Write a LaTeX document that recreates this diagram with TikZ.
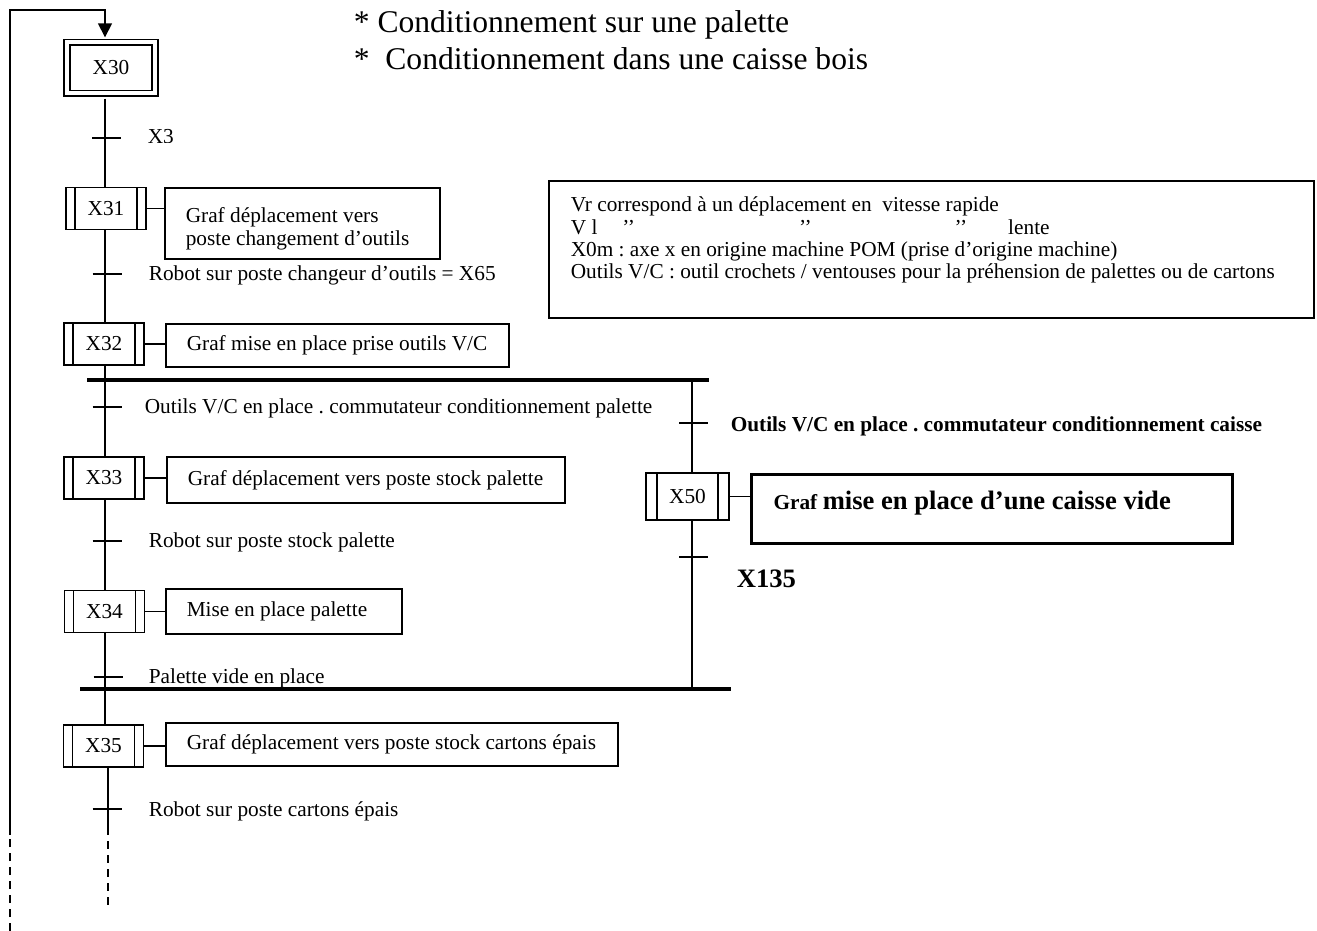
\documentclass[tikz,border=0pt]{standalone}
\usepackage{fontspec}
\setmainfont{Liberation Serif}
\usetikzlibrary{arrows.meta}

\begin{document}
\frenchspacing
\begin{tikzpicture}[x=0.5pt,y=-0.5pt,
  line width=0.8pt,
  every node/.style={font=\fontsize{10.65pt}{11.5pt}\selectfont},
  % ordinary (macro) step: box with two inner vertical bars
  stepbox/.style={draw, minimum width=40pt, minimum height=21pt, inner sep=0pt,
    path picture={
      \draw ([xshift=#1]path picture bounding box.north west) -- ([xshift=#1]path picture bounding box.south west);
      \draw ([xshift=-#1]path picture bounding box.north east) -- ([xshift=-#1]path picture bounding box.south east);}},
  stepbox/.default=4.5pt,
  initstep/.style={draw, double, double distance=2pt, minimum width=44pt, minimum height=25.5pt, inner sep=0pt},
  actbox/.style={draw, anchor=west, inner xsep=10.5pt},
  lbl/.style={anchor=base west, inner sep=0pt},
  thickbar/.style={line width=1.7pt},
  dashpart/.style={dash pattern=on 4pt off 3pt}
]
\useasboundingbox (0,0) rectangle (1317,931);

% ---------- heading ----------
\node[lbl, font=\fontsize{15.8pt}{18pt}\selectfont] (h1) at (353,33) {* Conditionnement sur une palette};
\node[lbl, font=\fontsize{15.8pt}{18pt}\selectfont] (h2) at (353,70) {*~ Conditionnement dans une caisse bois};

% ---------- column coordinates ----------
\coordinate (col) at (105,0);
\coordinate (colb) at (108,0);
\coordinate (rcol) at (692,0);

% ---------- steps ----------
\node[initstep] (x30) at (111,68) {X30};
\node[stepbox] (x31) at (106,208.5) {X31};
\node[stepbox] (x32) at (104,344) {X32};
\node[stepbox] (x33) at (104,478) {X33};
\node[stepbox] (x34) at (104.5,611.5) {X34};
\node[stepbox] (x35) at (103.5,746) {X35};
\node[stepbox=5.5pt, line width=1.25pt, minimum width=41.5pt, minimum height=23.5pt] (x50) at (687.5,496.5) {X50};

% ---------- actions ----------
\node[actbox, minimum height=35.5pt] (a31) at (164,223.5)
  {\makebox[116.5pt][l]{\raisebox{-3pt}[\height][\depth]{\begin{tabular}{@{}l@{}}Graf déplacement vers\\poste changement d’outils\end{tabular}}}};
\node[actbox, minimum height=21.5pt] (a32) at (165,345.5) {\makebox[150.5pt][l]{Graf mise en place prise outils V/C}};
\node[actbox, minimum height=23pt] (a33) at (166,480) {\makebox[178pt][l]{Graf déplacement vers poste stock palette}};
\node[actbox, minimum height=22.5pt] (a34) at (165,611.5) {\makebox[97pt][l]{Mise en place palette}};
\node[actbox, minimum height=21.5pt] (a35) at (165,744.5) {\makebox[205pt][l]{Graf déplacement vers poste stock cartons épais}};
\node[actbox, line width=1.5pt, inner xsep=11pt, inner ysep=0pt,
      text height=17.5pt, text depth=17pt] (a50) at (750,508.5)
  {\makebox[218.5pt][l]{\textbf{Graf} {\fontsize{13.3pt}{15pt}\selectfont\bfseries mise en place d’une caisse vide}}};

\foreach \s in {31,32,33,34,35,50}
  \draw (x\s.east) -- (x\s.east -| a\s.west);

% ---------- note box ----------
\node[draw, anchor=north west, minimum width=382.5pt, minimum height=68.5pt, inner sep=0pt] (note) at (548,180) {};
\node[lbl] (n1) at (570,212) {Vr correspond à un déplacement en\ \ vitesse rapide};
\node[lbl] (n2) at (570,234) {V l\hspace{12.5pt}’’\hspace{82pt}’’\hspace{71.5pt}’’\hspace{20.5pt}lente};
\node[lbl] (n3) at (570,256) {X0m : axe x en origine machine POM (prise d’origine machine)};
\node[lbl] (n4) at (570,278) {Outils V/C : outil crochets / ventouses pour la préhension de palettes ou de cartons};

% ---------- divergence / convergence bars ----------
\coordinate (divw) at (87,380);
\coordinate (dive) at (709,380);
\coordinate (convw) at (80,689);
\coordinate (conve) at (731,689);
\draw[thickbar] (divw) -- (dive);
\draw[thickbar] (convw) -- (conve);

% ---------- loop back to the initial step ----------
\coordinate (loopbot) at (10,931);
\coordinate (loopmid) at (10,835);
\coordinate (looptop) at (10,10);
\draw[dashpart] (loopbot) -- (loopmid);
\draw[-{Triangle[length=7pt,width=7pt]}] (loopmid) -- (looptop) -- (looptop -| col)
  -- ([yshift=2.2pt]x30.north -| col);

% ---------- main sequence links ----------
\draw ([yshift=-2.2pt]x30.south -| col) -- (x31.north -| col);
\draw (x31.south -| col) -- (x32.north -| col);
\draw (x32.south -| col) -- (divw -| col);
\draw (divw -| col) -- (x33.north -| col);
\draw (x33.south -| col) -- (x34.north -| col);
\draw (x34.south -| col) -- (x35.north -| col);
\coordinate (endsolid) at (108,827);
\coordinate (enddash) at (108,908);
\draw (x35.south -| colb) -- (endsolid);
\draw[dashpart] (endsolid) -- (enddash);

% ---------- right branch ----------
\draw[line width=1.35pt] (dive -| rcol) -- (x50.north -| rcol);
\draw[line width=1.35pt] (x50.south -| rcol) -- (conve -| rcol);

% ---------- transitions ----------
\coordinate (t1) at (106.5,138);
\coordinate (t2) at (107,274);
\coordinate (t3) at (107,407);
\coordinate (t4) at (107,541);
\coordinate (t5) at (108,677);
\coordinate (t6) at (107,809);
\coordinate (t7) at (693.5,423);
\coordinate (t8) at (693.5,557);
\foreach \t in {t1,t2,t3,t4,t5,t6,t7,t8}
  \draw ([xshift=-7.25pt]\t) -- ([xshift=7.25pt]\t);

\begin{scope}
  \clip (140,120) rectangle (200,142.5);
  \node[lbl] (l1) at (147,144) {X3};
\end{scope}
\node[lbl] (l2) at (148,280) {Robot sur poste changeur d’outils = X65};
\node[lbl] (l3) at (144,413) {Outils V/C en place . commutateur conditionnement palette};
\node[lbl] (l4) at (148,547) {Robot sur poste stock palette};
\node[lbl] (l5) at (148,683) {Palette vide en place};
\node[lbl] (l6) at (148,816) {Robot sur poste cartons épais};
\node[lbl, font=\fontsize{10.65pt}{11.5pt}\selectfont\bfseries] (l7) at (730,431) {Outils V/C en place . commutateur conditionnement caisse};
\node[lbl, font=\fontsize{13.3pt}{15pt}\selectfont\bfseries] (l8) at (736,587) {X135};

\end{tikzpicture}
\end{document}
